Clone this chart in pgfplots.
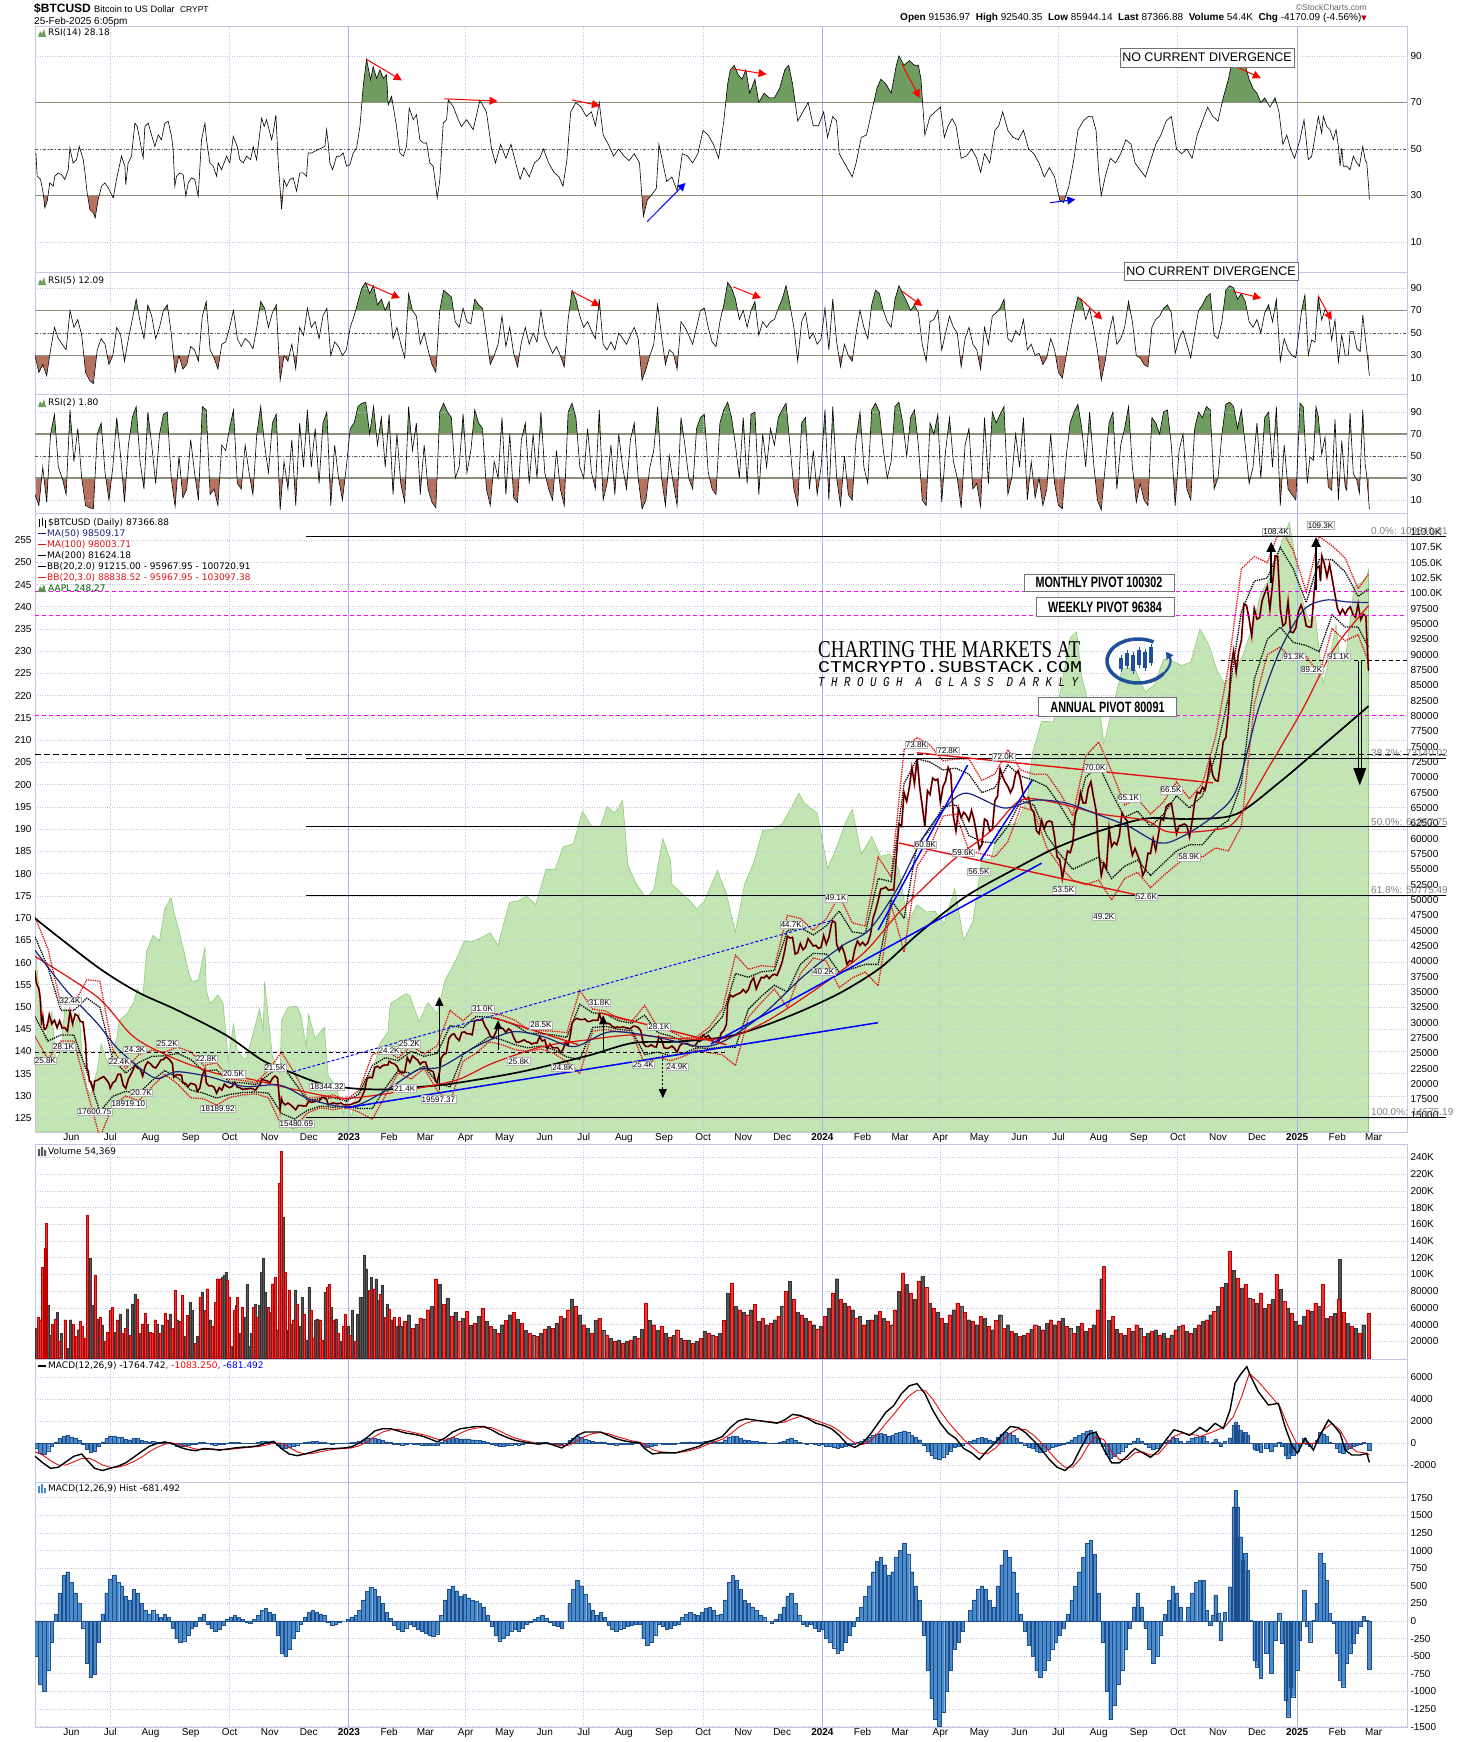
\documentclass[border=0pt]{standalone}
\usepackage{fontspec}
\setmainfont{Liberation Sans}
\newfontfamily\dv{DejaVu Sans}
\newfontfamily\lser{Liberation Serif}
\newfontfamily\lmono{Liberation Mono}
\usepackage{pgfplots}
\usepackage{pgfplotstable}
\pgfplotsset{compat=1.18}
\usetikzlibrary{arrows.meta}
\definecolor{gridc}{HTML}{C4C4E4}
\definecolor{yearc}{HTML}{A8B2F2}
\definecolor{refc}{HTML}{8E8E7C}
\definecolor{obc}{HTML}{6F9C5F}
\definecolor{osc}{HTML}{B4725F}
\definecolor{aaplf}{HTML}{C2E5B3}
\definecolor{aapll}{HTML}{8FCB7A}
\definecolor{navyma}{HTML}{1A237E}
\definecolor{redma}{HTML}{E01010}
\definecolor{magp}{HTML}{FF00FF}
\definecolor{volr}{HTML}{E23A3A}
\definecolor{volk}{HTML}{555555}
\definecolor{histf}{HTML}{4A8CCB}
\definecolor{histd}{HTML}{1E4E8C}
\definecolor{logob}{HTML}{1E4E9C}
\newcommand{\lbl}{\dv\fontsize{9}{10}\selectfont}
\newcommand{\yl}[2]{\draw[yearc, line width=0.9pt] (axis cs:0,#1)--(axis cs:0,#2) (axis cs:365,#1)--(axis cs:365,#2) (axis cs:731,#1)--(axis cs:731,#2);}
\newcommand{\rsiref}{\draw[refc, line width=1.6pt] (axis cs:-242,70)--(axis cs:815.7,70) (axis cs:-242,30)--(axis cs:815.7,30); \draw[black!65, line width=0.6pt, dash dot] (axis cs:-242,50)--(axis cs:815.7,50);}
\newcommand{\vl}[3]{\node[lab] at (axis cs:#1,#2) {#3};}
\newcommand{\fl}[2]{\node[anchor=south west, inner sep=1pt, text=black!50, font=\fontsize{10}{10}\selectfont] at (axis cs:787.2,#1) {#2};}
\tikzset{
 lab/.style={fill=white, draw=gray!60, inner sep=0.8pt, line width=0.4pt, font=\fontsize{8}{8}\selectfont},
 rarr/.style={red, line width=1pt, -{Triangle[length=8pt,width=8pt]}},
 barr/.style={blue, line width=1pt, -{Triangle[length=8pt,width=8pt]}},
}
\pgfplotsset{
 base/.style={scale only axis, width=1372pt, xmin=-242, xmax=815.7,
   axis line style={draw=gridc, line width=0.7pt},
   major tick length=0pt, scaled y ticks=false,
   ymajorgrids=true, major grid style={draw=gridc, dotted, line width=0.7pt},
   tick label style={font=\fontsize{10}{11}\selectfont},
   /pgf/number format/assume math mode=true,
   /pgf/number format/1000 sep={},
   yticklabel pos=right, xtick=\empty},
 ovl/.style={scale only axis, width=1372pt, xmin=-242, xmax=815.7, hide axis},
 vgrid/.style={extra x ticks={-184,-92,90,181,273,456,547,639}, extra x tick labels={,,,,,,,},
   extra x tick style={grid=major}},
 mticks/.style={xtick={-214,-184,-153,-122,-92,-61,-31,0,31,59,90,120,151,181,212,243,273,304,334,365,396,425,456,486,517,547,578,609,639,670,700,731,762,790},
   xticklabels={Jun,Jul,Aug,Sep,Oct,Nov,Dec,\textbf{2023},Feb,Mar,Apr,May,Jun,Jul,Aug,Sep,Oct,Nov,Dec,\textbf{2024},Feb,Mar,Apr,May,Jun,Jul,Aug,Sep,Oct,Nov,Dec,\textbf{2025},Feb,Mar},
   xticklabel style={inner sep=1.5pt}},
}
% ---------------- data ----------------
\pgfplotstableread[row sep=\\]{x y\\
-241.3 48.3\\ -240.3 38.3\\ -237.7 36.9\\ -235.7 31.1\\ -234.4 24.7\\ -232.6 27.6\\ -230.6 35.4\\ -228.0 34.0\\ -226.7 38.3\\ -224.1 39.7\\ -221.6 39.0\\ -219.0 36.9\\ -216.4 41.1\\ -215.1 50.4\\ -212.6 44.0\\ -210.0 45.4\\ -207.9 51.1\\ -204.8 45.4\\ -203.6 40.4\\ -201.8 31.1\\ -199.7 24.0\\ -197.1 22.6\\ -195.6 20.4\\ -193.3 28.3\\ -190.7 34.0\\ -188.1 35.4\\ -185.6 33.3\\ -181.7 29.0\\ -179.2 36.9\\ -175.3 46.9\\ -172.7 42.6\\ -172.0 34.7\\ -170.2 44.0\\ -167.6 46.9\\ -165.0 61.1\\ -163.2 59.7\\ -161.2 54.0\\ -159.9 49.7\\ -158.6 46.1\\ -157.3 59.7\\ -154.7 61.1\\ -152.2 56.1\\ -149.6 51.1\\ -147.0 56.1\\ -144.5 54.0\\ -141.9 61.1\\ -139.3 61.9\\ -136.7 55.4\\ -135.5 49.7\\ -134.2 34.0\\ -132.9 38.3\\ -130.3 39.7\\ -127.8 39.0\\ -125.7 29.7\\ -123.9 35.4\\ -121.3 37.6\\ -118.8 36.9\\ -116.2 29.7\\ -113.6 54.0\\ -111.0 61.1\\ -109.8 54.0\\ -107.2 44.0\\ -104.6 42.6\\ -102.0 38.3\\ -100.8 44.0\\ -98.2 41.1\\ -94.3 46.9\\ -91.8 44.0\\ -89.2 55.4\\ -86.1 51.1\\ -84.1 45.4\\ -81.5 44.0\\ -78.9 46.9\\ -75.8 45.4\\ -73.8 51.1\\ -71.2 45.4\\ -67.3 63.3\\ -65.3 59.7\\ -63.5 62.6\\ -59.6 54.0\\ -58.4 56.9\\ -56.3 64.7\\ -54.5 44.0\\ -51.9 24.0\\ -50.1 36.9\\ -48.1 34.0\\ -45.5 36.9\\ -42.9 37.6\\ -40.4 31.9\\ -37.8 39.7\\ -35.2 39.7\\ -32.7 38.3\\ -31.4 48.3\\ -28.8 48.3\\ -26.2 49.0\\ -23.7 49.7\\ -21.1 50.4\\ -18.5 51.1\\ -17.2 58.3\\ -16.0 52.6\\ -14.7 44.0\\ -12.6 41.1\\ -9.5 46.9\\ -7.0 46.9\\ -4.4 48.3\\ -1.8 42.6\\ 0.8 43.3\\ 3.3 48.3\\ 5.9 50.4\\ 8.5 59.7\\ 11.0 76.9\\ 13.6 88.6\\ 16.7 79.7\\ 18.7 85.4\\ 21.3 80.4\\ 23.9 84.0\\ 26.5 80.4\\ 29.0 81.9\\ 30.3 69.0\\ 32.9 72.6\\ 36.7 59.7\\ 39.3 48.3\\ 41.9 46.9\\ 44.4 51.1\\ 46.5 67.6\\ 49.6 62.6\\ 52.1 64.7\\ 54.7 54.0\\ 57.3 52.6\\ 59.9 52.6\\ 62.4 44.0\\ 65.0 42.6\\ 68.1 29.0\\ 70.1 36.9\\ 72.7 61.1\\ 75.3 62.6\\ 76.6 71.1\\ 80.4 68.3\\ 84.3 62.6\\ 86.8 59.7\\ 90.7 62.6\\ 95.8 58.3\\ 101.0 71.1\\
104 68\\ 106 66\\ 110 50\\ 113 44\\ 117 52\\ 121 46\\ 125 52\\ 129 43\\ 132 37\\ 135 42\\ 139 38\\ 143 44\\ 147 46\\ 150 50\\ 154 44\\ 158 40\\ 162 38\\ 165 34\\ 168 45\\ 171 66\\ 175 70\\ 179 68\\ 183 64\\ 187 66\\ 190 60\\ 193 70\\ 196 56\\ 200 52\\ 204 47\\ 208 50\\ 212 47\\ 216 45\\ 220 48\\ 224 44\\ 227 21\\ 230 28\\ 233 30\\ 237 33\\ 239 52\\ 242 44\\ 245 36\\ 249 38\\ 253 32\\ 257 48\\ 261 47\\ 265 44\\ 269 48\\ 273 58\\ 277 56\\ 281 52\\ 285 46\\ 289 62\\ 292 78\\ 294 84\\ 297 86\\ 300 82\\ 303 80\\ 306 84\\ 309 74\\ 313 80\\ 316 70\\ 320 74\\ 324 72\\ 328 72\\ 332 76\\ 336 84\\ 339 86\\ 342 78\\ 346 62\\ 350 66\\ 354 70\\ 358 60\\ 362 60\\ 366 66\\ 369 55\\ 373 64\\ 376 62\\ 378 48\\ 381 45\\ 384 42\\ 388 38\\ 391 44\\ 395 55\\ 399 56\\ 403 66\\ 407 76\\ 410 80\\ 414 78\\ 418 74\\ 422 86\\ 424 90\\ 428 86\\ 432 88\\ 436 86\\ 439 86\\ 441 80\\ 444 56\\ 448 64\\ 452 66\\ 456 68\\ 459 55\\ 462 60\\ 465 63\\ 468 60\\ 472 46\\ 476 47\\ 480 50\\ 484 46\\ 487 40\\ 490 48\\ 494 44\\ 498 58\\ 501 60\\ 504 66\\ 508 58\\ 512 55\\ 516 54\\ 520 58\\ 524 50\\ 528 48\\ 532 44\\ 536 38\\ 540 42\\ 544 38\\ 548 28\\ 551 27\\ 555 34\\ 559 46\\ 562 58\\ 566 62\\ 570 64\\ 573 64\\ 576 58\\ 578 40\\ 580 30\\ 583 38\\ 587 46\\ 591 44\\ 595 48\\ 599 54\\ 603 52\\ 606 44\\ 610 41\\ 614 38\\ 618 45\\ 622 52\\ 626 56\\ 630 62\\ 634 64\\ 638 50\\ 642 48\\ 646 50\\ 650 46\\ 654 56\\ 658 62\\ 662 68\\ 666 64\\ 670 62\\ 674 72\\ 678 80\\ 681 88\\ 684 86\\ 688 88\\ 691 86\\ 694 80\\ 697 76\\ 700 74\\ 703 70\\ 706 72\\ 710 68\\ 714 72\\ 717 66\\ 720 52\\ 723 56\\ 726 50\\ 729 46\\
733.2 54.0\\ 736.3 62.6\\ 739.6 45.4\\ 742.2 46.9\\ 744.8 55.4\\ 747.3 64.0\\ 749.9 56.9\\ 751.2 64.0\\ 753.8 59.7\\ 756.3 58.3\\ 758.9 54.0\\ 761.0 58.3\\ 762.8 51.1\\ 764.1 42.6\\ 765.4 50.4\\ 766.6 42.6\\ 769.2 42.6\\ 771.8 41.1\\ 774.3 46.9\\ 777.0 44.0\\ 779.0 42.6\\ 781.6 51.1\\ 783.4 45.4\\ 784.7 44.0\\ 785.9 35.4\\ 786.7 28.3\\
}\rsiA
\pgfplotstableread[row sep=\\]{x y\\
-242 30\\ -239 15\\ -236 22\\ -233 12\\ -230 35\\ -227 55\\ -224 45\\ -221 40\\ -218 35\\ -215 70\\ -212 55\\ -209 62\\ -206 48\\ -203 15\\ -200 8\\ -197 5\\ -194 35\\ -191 45\\ -188 40\\ -185 22\\ -182 30\\ -179 55\\ -176 48\\ -173 25\\ -170 45\\ -167 62\\ -164 80\\ -161 60\\ -158 45\\ -155 75\\ -152 65\\ -149 45\\ -146 55\\ -143 70\\ -140 75\\ -137 50\\ -134 15\\ -131 30\\ -128 18\\ -125 22\\ -122 38\\ -119 35\\ -116 25\\ -113 65\\ -110 78\\ -107 35\\ -104 28\\ -101 18\\ -98 40\\ -95 42\\ -92 55\\ -89 70\\ -86 45\\ -83 38\\ -80 45\\ -77 42\\ -74 36\\ -71 55\\ -68 78\\ -65 72\\ -62 55\\ -59 68\\ -56 75\\ -53 8\\ -50 30\\ -47 25\\ -44 40\\ -41 18\\ -38 55\\ -35 48\\ -32 72\\ -29 55\\ -26 60\\ -23 45\\ -20 65\\ -17 72\\ -14 30\\ -11 42\\ -8 38\\ -5 30\\ -2 35\\ 1 55\\ 4 65\\ 7 78\\ 10 90\\ 13 95\\ 16 85\\ 19 92\\ 22 75\\ 25 80\\ 28 70\\ 31 78\\ 34 45\\ 37 55\\ 40 40\\ 43 28\\ 46 85\\ 49 70\\ 52 65\\ 55 40\\ 58 50\\ 61 35\\ 64 22\\ 67 15\\ 70 70\\ 73 88\\ 76 85\\ 79 82\\ 82 60\\ 85 55\\ 88 72\\ 91 60\\ 94 58\\ 97 80\\ 100 75\\ 103 72\\ 106 48\\ 109 22\\ 112 30\\ 115 40\\ 118 65\\ 121 38\\ 124 55\\ 127 32\\ 130 20\\ 133 42\\ 136 55\\ 139 40\\ 142 50\\ 145 42\\ 148 70\\ 151 48\\ 154 40\\ 157 32\\ 160 38\\ 163 30\\ 166 20\\ 169 62\\ 172 88\\ 175 80\\ 178 65\\ 181 55\\ 184 60\\ 187 52\\ 190 45\\ 193 80\\ 196 40\\ 199 35\\ 202 42\\ 205 35\\ 208 50\\ 211 45\\ 214 40\\ 217 48\\ 220 55\\ 223 45\\ 226 8\\ 229 18\\ 232 30\\ 235 40\\ 238 75\\ 241 48\\ 244 22\\ 247 35\\ 250 32\\ 253 18\\ 256 60\\ 259 55\\ 262 48\\ 265 40\\ 268 55\\ 271 70\\ 274 72\\ 277 55\\ 280 42\\ 283 38\\ 286 60\\ 289 75\\ 292 95\\ 295 90\\ 298 80\\ 301 62\\ 304 70\\ 307 55\\ 310 70\\ 313 78\\ 316 48\\ 319 60\\ 322 55\\ 325 60\\ 328 62\\ 331 72\\ 334 80\\ 337 92\\ 340 75\\ 343 55\\ 346 25\\ 349 60\\ 352 68\\ 355 45\\ 358 50\\ 361 40\\ 364 45\\ 367 72\\ 370 35\\ 373 80\\ 376 42\\ 379 20\\ 382 40\\ 385 30\\ 388 25\\ 391 50\\ 394 70\\ 397 55\\ 400 45\\ 403 75\\ 406 88\\ 409 85\\ 412 70\\ 415 60\\ 418 55\\ 421 80\\ 424 92\\ 427 85\\ 430 78\\ 433 70\\ 436 75\\ 439 68\\ 442 40\\ 445 25\\ 448 60\\ 451 62\\ 454 70\\ 457 35\\ 460 50\\ 463 65\\ 466 55\\ 469 50\\ 472 20\\ 475 45\\ 478 55\\ 481 40\\ 484 35\\ 487 18\\ 490 55\\ 493 40\\ 496 65\\ 499 68\\ 502 72\\ 505 80\\ 508 45\\ 511 42\\ 514 52\\ 517 48\\ 520 62\\ 523 35\\ 526 40\\ 529 30\\ 532 32\\ 535 22\\ 538 28\\ 541 45\\ 544 35\\ 547 15\\ 550 10\\ 553 30\\ 556 50\\ 559 68\\ 562 82\\ 565 78\\ 568 62\\ 571 72\\ 574 55\\ 577 35\\ 580 8\\ 583 25\\ 586 50\\ 589 65\\ 592 40\\ 595 45\\ 598 55\\ 601 78\\ 604 60\\ 607 30\\ 610 28\\ 613 22\\ 616 20\\ 619 55\\ 622 62\\ 625 65\\ 628 72\\ 631 75\\ 634 68\\ 637 32\\ 640 45\\ 643 52\\ 646 40\\ 649 28\\ 652 50\\ 655 70\\ 658 75\\ 661 82\\ 664 85\\ 667 48\\ 670 45\\ 673 60\\ 676 88\\ 679 92\\ 682 90\\ 685 80\\ 688 85\\ 691 78\\ 694 60\\ 697 55\\ 700 62\\ 703 50\\ 706 68\\ 709 75\\ 712 60\\ 715 80\\ 718 25\\ 721 45\\ 724 35\\ 727 30\\ 730 28\\
734.5 70.4\\ 737 83.8\\ 739.6 30.4\\ 742.2 43.8\\ 744.8 42\\ 747.3 82.3\\ 749.9 61.6\\ 752.5 71\\ 755 67\\ 757.6 43.8\\ 760.2 61.6\\ 762.8 24.5\\ 765.4 48.2\\ 768 30.4\\ 770.5 30.4\\ 771.8 51.1\\ 774.3 51.1\\ 777 36.3\\ 779.6 33.4\\ 781.6 66\\ 783.4 46.7\\ 784.7 34.8\\ 786.7 12.1\\
}\rsiB
\pgfplotstableread[row sep=\\]{x y\\
-242 15\\ -239 5\\ -236 40\\ -233 8\\ -230 70\\ -227 88\\ -224 40\\ -221 30\\ -218 15\\ -215 92\\ -212 45\\ -209 75\\ -206 30\\ -203 5\\ -200 3\\ -197 2\\ -194 70\\ -191 80\\ -188 35\\ -185 10\\ -182 40\\ -179 85\\ -176 50\\ -173 8\\ -170 60\\ -167 85\\ -164 95\\ -161 45\\ -158 20\\ -155 90\\ -152 60\\ -149 25\\ -146 70\\ -143 88\\ -140 90\\ -137 30\\ -134 4\\ -131 50\\ -128 12\\ -125 20\\ -122 65\\ -119 35\\ -116 10\\ -113 95\\ -110 92\\ -107 15\\ -104 20\\ -101 5\\ -98 60\\ -95 55\\ -92 75\\ -89 92\\ -86 25\\ -83 20\\ -80 60\\ -77 35\\ -74 15\\ -71 70\\ -68 95\\ -65 60\\ -62 35\\ -59 80\\ -56 88\\ -53 1\\ -50 45\\ -47 20\\ -44 65\\ -41 5\\ -38 80\\ -35 40\\ -32 92\\ -29 40\\ -26 75\\ -23 25\\ -20 80\\ -17 90\\ -14 5\\ -11 60\\ -8 30\\ -5 10\\ -2 40\\ 1 75\\ 4 80\\ 7 95\\ 10 98\\ 13 99\\ 16 70\\ 19 95\\ 22 60\\ 25 85\\ 28 40\\ 31 88\\ 34 15\\ 37 70\\ 40 25\\ 43 8\\ 46 95\\ 49 55\\ 52 80\\ 55 15\\ 58 60\\ 61 20\\ 64 8\\ 67 3\\ 70 90\\ 73 98\\ 76 90\\ 79 85\\ 82 30\\ 85 40\\ 88 88\\ 91 35\\ 94 55\\ 97 92\\ 100 80\\ 103 75\\ 106 20\\ 109 5\\ 112 45\\ 115 30\\ 118 85\\ 121 15\\ 124 70\\ 127 12\\ 130 8\\ 133 65\\ 136 80\\ 139 25\\ 142 70\\ 145 30\\ 148 90\\ 151 35\\ 154 20\\ 157 10\\ 160 55\\ 163 20\\ 166 5\\ 169 90\\ 172 98\\ 175 85\\ 178 40\\ 181 30\\ 184 75\\ 187 35\\ 190 20\\ 193 92\\ 196 10\\ 199 25\\ 202 60\\ 205 15\\ 208 70\\ 211 40\\ 214 20\\ 217 65\\ 220 80\\ 223 30\\ 226 2\\ 229 10\\ 232 40\\ 235 55\\ 238 95\\ 241 30\\ 244 5\\ 247 50\\ 250 25\\ 253 5\\ 256 85\\ 259 60\\ 262 30\\ 265 20\\ 268 75\\ 271 85\\ 274 88\\ 277 35\\ 280 20\\ 283 15\\ 286 80\\ 289 92\\ 292 99\\ 295 85\\ 298 60\\ 301 30\\ 304 85\\ 307 25\\ 310 88\\ 313 90\\ 316 15\\ 319 70\\ 322 40\\ 325 75\\ 328 60\\ 331 85\\ 334 92\\ 337 98\\ 340 60\\ 343 20\\ 346 5\\ 349 80\\ 352 85\\ 355 20\\ 358 55\\ 361 15\\ 364 40\\ 367 92\\ 370 10\\ 373 95\\ 376 30\\ 379 5\\ 382 50\\ 385 15\\ 388 10\\ 391 65\\ 394 90\\ 397 40\\ 400 25\\ 403 92\\ 406 98\\ 409 90\\ 412 55\\ 415 30\\ 418 45\\ 421 95\\ 424 99\\ 427 80\\ 430 50\\ 433 85\\ 436 92\\ 439 60\\ 442 10\\ 445 5\\ 448 80\\ 451 70\\ 454 88\\ 457 8\\ 460 55\\ 463 85\\ 466 45\\ 469 30\\ 472 3\\ 475 60\\ 478 75\\ 481 20\\ 484 25\\ 487 4\\ 490 85\\ 493 25\\ 496 90\\ 499 80\\ 502 88\\ 505 95\\ 508 15\\ 511 30\\ 514 70\\ 517 40\\ 520 85\\ 523 10\\ 526 45\\ 529 12\\ 532 30\\ 535 5\\ 538 20\\ 541 70\\ 544 25\\ 547 5\\ 550 2\\ 553 50\\ 556 80\\ 559 90\\ 562 97\\ 565 75\\ 568 40\\ 571 90\\ 574 45\\ 577 10\\ 580 1\\ 583 40\\ 586 80\\ 589 90\\ 592 20\\ 595 60\\ 598 75\\ 601 95\\ 604 40\\ 607 8\\ 610 25\\ 613 10\\ 616 5\\ 619 85\\ 622 80\\ 625 70\\ 628 90\\ 631 92\\ 634 60\\ 637 5\\ 640 55\\ 643 70\\ 646 20\\ 649 10\\ 652 75\\ 655 90\\ 658 85\\ 661 95\\ 664 92\\ 667 20\\ 670 30\\ 673 70\\ 676 97\\ 679 99\\ 682 95\\ 685 75\\ 688 92\\ 691 60\\ 694 25\\ 697 40\\ 700 80\\ 703 30\\ 706 85\\ 709 90\\ 712 40\\ 715 95\\ 718 5\\ 721 60\\ 724 20\\ 727 15\\ 730 10\\
733.2 97.9\\ 735.7 94.8\\ 738.8 25\\ 740.9 49.4\\ 743.5 46\\ 745.5 94.8\\ 747.3 86\\ 749.9 51.7\\ 752.5 67\\ 755 22\\ 757.6 19\\ 760.2 83\\ 762.8 10\\ 765.4 64\\ 768 22\\ 769.2 19\\ 771.8 89\\ 774.3 34\\ 777 28\\ 779 16\\ 781.6 91.8\\ 783.4 43\\ 784.7 31\\ 786.7 1.8\\
}\rsiC
\pgfplotstableread[row sep=\\]{x y\\
-242 166\\ -240 157\\ -235 146\\ -234 142.6\\ -229 149\\ -226 137.6\\ -222 140.4\\ -219 149.6\\ -214 148.7\\ -212 145.4\\ -208 148.7\\ -205 137.1\\ -202 131.9\\ -199 130.1\\ -194 135.9\\ -191 141.7\\ -185 136.7\\ -179 142.9\\ -177 147.0\\ -171 148.5\\ -166 151.0\\ -163 154.1\\ -159 151.6\\ -156 162.5\\ -151 166.1\\ -146 164.9\\ -142 172.1\\ -137 174.6\\ -135 171.5\\ -131 167.2\\ -128 163.6\\ -123 157.2\\ -121 155.8\\ -116 156.0\\ -111 163.4\\ -110 153.8\\ -107 150.7\\ -101 152.7\\ -97 150.8\\ -93 138.2\\ -89 146.1\\ -86 140.1\\ -81 138.3\\ -79 138.4\\ -74 143.9\\ -69 149.5\\ -66 144.8\\ -65 155.7\\ -59 138.9\\ -53 134.9\\ -52 146.9\\ -47 150.0\\ -40 150.2\\ -37 148.1\\ -33 141.2\\ -31 148.3\\ -26 142.9\\ -19 145.5\\ -16 134.5\\ -10 132.2\\ -4 126.0\\ -2 129.9\\ 2 125.1\\ 5 129.6\\ 11 133.4\\ 18 135.3\\ 24 141.9\\ 30 144.3\\ 32 150.8\\ 38 151.9\\ 44 153.0\\ 47 152.6\\ 54 146.7\\ 61 151.0\\ 68 148.5\\ 74 155.9\\ 82 160.3\\ 89 164.9\\ 95 164.7\\ 102 165.6\\ 109 166.7\\ 115 163.8\\ 120 169.6\\ 124 173.6\\ 130 173.8\\ 137 175.0\\ 144 173.0\\ 152 181.0\\ 159 181.0\\ 165 186.0\\ 173 186.7\\ 180 194.0\\ 187 190.7\\ 194 190.7\\ 199 195.1\\ 205 193.6\\ 211 196.5\\ 215 182.0\\ 221 178.0\\ 229 174.5\\ 235 176.4\\ 242 187.9\\ 248 182.9\\ 249 177.6\\ 256 175.7\\ 263 173.9\\ 268 172.0\\ 274 173.8\\ 284 180.7\\ 291 175.5\\ 298 166.9\\ 305 177.6\\ 312 182.4\\ 319 189.7\\ 327 190.0\\ 334 191.2\\ 340 194.3\\ 347 198.1\\ 351 195.9\\ 361 193.6\\ 367 184.3\\ 369 181.2\\ 376 185.9\\ 383 191.6\\ 388 194.5\\ 395 184.4\\ 403 188.3\\ 410 183.9\\ 417 184.4\\ 424 180.8\\ 431 169.0\\ 438 173.0\\ 445 171.4\\ 452 171.5\\ 459 168.8\\ 467 176.6\\ 474 165.0\\ 481 169.3\\ 488 183.4\\ 495 183.1\\ 500 189.7\\ 507 190.9\\ 515 191.3\\ 523 196.9\\ 527 207.2\\ 534 214.3\\ 543 214.1\\ 549 221.6\\ 556 233.0\\ 561 234.4\\ 565 224.3\\ 571 217.5\\ 578 218.4\\ 582 209.3\\ 589 217.5\\ 596 225.9\\ 605 226.5\\ 614 220.8\\ 621 222.5\\ 628 228.2\\ 635 227.8\\ 642 226.8\\ 649 227.6\\ 656 235.0\\ 663 231.4\\ 669 225.9\\ 675 222.7\\ 682 225.1\\ 689 229.0\\ 696 234.9\\ 703 243.0\\ 710 246.5\\ 715 251.0\\ 719 254.5\\ 725 259.0\\ 730 250.4\\ 733 243.4\\ 740 236.9\\ 745 237.9\\ 751 222.6\\ 757 229.9\\ 761 236.0\\ 764 228.0\\ 768 227.6\\ 775 244.6\\ 782 245.6\\ 785 247.1\\ 786 248.3\\
}\aapl
\pgfplotstableread[row sep=\\]{x y\\
-242 38.5\\ -241 36.5\\ -240 36.0\\ -239 35.5\\ -238 34.0\\ -237 30.1\\ -236 31.0\\ -235 29.0\\ -234 28.9\\ -233 29.3\\ -232 30.1\\ -231 31.3\\ -229 29.8\\ -227 30.4\\ -225 29.2\\ -223 30.3\\ -221 29.1\\ -219 29.2\\ -217 28.6\\ -215 31.8\\ -213 29.8\\ -211 31.4\\ -209 31.1\\ -207 30.2\\ -205 30.1\\ -204 28.4\\ -203 26.6\\ -202 22.5\\ -201 22.1\\ -200 20.4\\ -199 20.4\\ -197 19.0\\ -196 20.5\\ -194 20.6\\ -191 21.0\\ -189 21.2\\ -187 20.7\\ -185 20.1\\ -184 19.3\\ -182 20.2\\ -180 20.5\\ -178 21.6\\ -176 21.6\\ -174 19.8\\ -172 19.3\\ -170 20.8\\ -168 21.6\\ -166 22.5\\ -165 23.2\\ -163 22.6\\ -161 22.5\\ -159 21.3\\ -157 22.9\\ -155 23.6\\ -153 23.3\\ -151 22.8\\ -149 22.6\\ -147 23.2\\ -145 23.9\\ -143 24.0\\ -141 24.4\\ -140 24.3\\ -138 23.9\\ -136 23.3\\ -135 21.1\\ -133 21.5\\ -131 21.5\\ -129 21.4\\ -128 20.2\\ -126 20.1\\ -124 19.6\\ -122 20.1\\ -120 20.0\\ -118 19.8\\ -117 18.8\\ -115 19.3\\ -113 21.4\\ -111 22.4\\ -110 20.2\\ -108 19.7\\ -106 19.7\\ -104 19.5\\ -102 18.5\\ -100 19.4\\ -98 19.0\\ -96 20.0\\ -94 19.6\\ -92 19.4\\ -90 19.6\\ -88 20.3\\ -86 19.5\\ -84 19.4\\ -82 19.1\\ -80 19.2\\ -78 19.2\\ -76 19.3\\ -74 19.2\\ -72 19.0\\ -70 19.6\\ -68 20.1\\ -67 20.8\\ -65 20.6\\ -63 20.5\\ -61 20.2\\ -59 20.9\\ -57 21.3\\ -55 21.0\\ -54 18.5\\ -53 15.9\\ -52 17.6\\ -51 17.0\\ -49 16.6\\ -47 16.9\\ -45 16.6\\ -43 16.2\\ -41 15.8\\ -39 16.5\\ -37 16.5\\ -35 16.4\\ -33 16.4\\ -31 17.2\\ -29 17.0\\ -27 17.1\\ -25 17.2\\ -23 17.2\\ -21 17.8\\ -19 17.8\\ -17 17.4\\ -16 16.6\\ -14 16.8\\ -12 16.9\\ -10 16.8\\ -8 16.8\\ -6 16.9\\ -4 16.6\\ -2 16.6\\ 0 16.6\\ 2 16.7\\ 4 16.9\\ 6 17.0\\ 8 17.2\\ 10 17.9\\ 12 18.9\\ 13 19.9\\ 14 20.9\\ 16 21.1\\ 18 21.0\\ 20 22.7\\ 22 22.9\\ 24 22.6\\ 26 23.0\\ 28 23.1\\ 30 23.1\\ 31 23.7\\ 33 23.4\\ 35 23.3\\ 37 22.9\\ 39 22.0\\ 41 21.8\\ 43 21.9\\ 45 24.3\\ 47 23.5\\ 49 24.6\\ 51 24.2\\ 53 23.9\\ 55 23.2\\ 57 23.6\\ 59 23.6\\ 61 22.4\\ 63 22.2\\ 65 22.0\\ 67 20.4\\ 68 20.2\\ 70 22.1\\ 71 24.2\\ 73 24.8\\ 75 25.0\\ 77 27.4\\ 79 28.0\\ 81 28.2\\ 83 27.5\\ 85 27.1\\ 87 28.4\\ 89 28.5\\ 91 28.2\\ 93 28.2\\ 95 28.0\\ 97 30.3\\ 99 30.4\\ 101 30.4\\ 103 30.5\\ 105 29.4\\ 107 28.8\\ 109 27.8\\ 111 27.5\\ 113 28.3\\ 115 29.5\\ 117 29.2\\ 119 29.0\\ 121 28.4\\ 123 29.0\\ 125 28.7\\ 127 27.6\\ 129 26.8\\ 131 26.8\\ 133 27.0\\ 135 27.2\\ 137 26.9\\ 139 26.8\\ 141 26.5\\ 143 26.7\\ 145 26.7\\ 147 27.7\\ 149 27.0\\ 151 27.2\\ 153 25.7\\ 155 26.5\\ 157 25.9\\ 159 25.9\\ 161 25.9\\ 163 25.1\\ 165 25.6\\ 167 26.8\\ 169 26.3\\ 171 28.3\\ 172 29.9\\ 174 30.5\\ 176 30.7\\ 178 30.5\\ 180 30.5\\ 182 30.6\\ 184 30.2\\ 186 30.2\\ 188 30.4\\ 190 30.4\\ 192 30.4\\ 193 31.4\\ 195 30.3\\ 197 30.1\\ 199 29.9\\ 201 29.8\\ 203 29.4\\ 205 29.2\\ 207 29.3\\ 209 29.2\\ 211 29.3\\ 213 29.2\\ 215 29.1\\ 217 29.0\\ 219 29.4\\ 221 29.4\\ 223 29.2\\ 225 28.7\\ 227 26.6\\ 229 26.1\\ 231 26.1\\ 233 26.4\\ 235 26.1\\ 237 26.0\\ 239 27.7\\ 241 27.2\\ 243 25.9\\ 245 25.8\\ 247 25.9\\ 249 26.2\\ 251 25.8\\ 253 25.2\\ 255 26.2\\ 257 26.6\\ 259 26.6\\ 261 26.6\\ 263 26.3\\ 265 26.2\\ 267 26.3\\ 269 26.9\\ 271 27.0\\ 273 28.0\\ 275 27.6\\ 277 27.9\\ 279 27.4\\ 281 26.9\\ 283 26.8\\ 285 26.8\\ 287 28.3\\ 289 28.7\\ 291 29.7\\ 292 33.1\\ 294 34.5\\ 296 34.2\\ 298 34.5\\ 300 34.7\\ 302 34.9\\ 304 35.4\\ 306 34.9\\ 308 35.4\\ 310 36.7\\ 312 37.3\\ 314 35.5\\ 316 36.5\\ 318 37.4\\ 320 37.3\\ 322 37.7\\ 324 37.2\\ 326 37.7\\ 328 37.9\\ 330 37.7\\ 332 38.7\\ 334 39.9\\ 336 41.8\\ 338 44.1\\ 340 43.8\\ 342 43.9\\ 344 41.2\\ 346 41.4\\ 348 42.9\\ 350 41.9\\ 352 42.3\\ 354 43.7\\ 356 43.1\\ 358 42.5\\ 360 42.6\\ 362 42.1\\ 364 42.3\\ 366 44.2\\ 368 42.8\\ 370 43.9\\ 372 46.1\\ 373 46.6\\ 375 46.3\\ 376 42.8\\ 378 41.7\\ 380 42.5\\ 382 41.3\\ 384 39.5\\ 386 40.1\\ 388 39.9\\ 390 42.0\\ 392 43.3\\ 394 42.6\\ 396 43.1\\ 398 42.6\\ 400 43.0\\ 402 44.3\\ 404 47.0\\ 406 48.3\\ 408 49.9\\ 410 51.8\\ 412 51.9\\ 414 52.1\\ 416 51.6\\ 418 51.7\\ 420 51.6\\ 422 57.0\\ 424 62.4\\ 426 62.0\\ 428 67.5\\ 430 66.1\\ 432 68.3\\ 434 71.6\\ 436 69.0\\ 438 73.1\\ 440 68.4\\ 442 65.3\\ 444 62.0\\ 446 67.8\\ 448 67.2\\ 450 69.9\\ 452 69.5\\ 454 69.7\\ 456 65.9\\ 458 68.5\\ 460 69.4\\ 462 71.6\\ 464 70.6\\ 466 63.6\\ 468 61.3\\ 470 64.9\\ 472 63.4\\ 474 64.3\\ 476 63.8\\ 478 62.9\\ 480 64.6\\ 482 63.0\\ 484 60.6\\ 486 58.3\\ 488 59.1\\ 490 63.2\\ 492 62.9\\ 494 61.2\\ 496 61.5\\ 498 66.2\\ 500 66.9\\ 502 71.4\\ 504 70.1\\ 506 69.2\\ 508 68.5\\ 510 67.5\\ 512 68.4\\ 514 70.6\\ 516 71.1\\ 518 69.4\\ 520 66.9\\ 522 66.4\\ 524 66.7\\ 526 64.9\\ 528 64.3\\ 530 61.3\\ 532 60.8\\ 534 63.0\\ 536 61.6\\ 538 62.7\\ 540 62.9\\ 542 62.7\\ 544 60.3\\ 546 57.0\\ 548 56.6\\ 550 53.5\\ 552 55.8\\ 554 58.0\\ 556 57.7\\ 558 59.2\\ 560 64.1\\ 562 65.1\\ 564 67.5\\ 566 65.8\\ 568 65.8\\ 570 68.2\\ 572 69.3\\ 574 66.8\\ 576 64.6\\ 578 58.1\\ 580 54.0\\ 582 56.0\\ 584 55.1\\ 586 61.7\\ 588 58.7\\ 590 59.4\\ 592 59.0\\ 594 60.6\\ 596 64.2\\ 598 63.4\\ 600 62.9\\ 602 59.4\\ 604 57.3\\ 606 58.4\\ 608 57.3\\ 610 56.2\\ 612 54.0\\ 614 54.9\\ 616 57.6\\ 618 57.6\\ 620 60.0\\ 622 58.1\\ 624 60.6\\ 626 63.3\\ 628 63.0\\ 630 65.2\\ 632 65.6\\ 634 65.8\\ 636 63.3\\ 638 60.8\\ 640 62.1\\ 642 62.2\\ 644 62.4\\ 646 62.1\\ 648 60.3\\ 650 62.8\\ 652 66.0\\ 654 67.6\\ 656 67.4\\ 658 68.4\\ 660 67.9\\ 662 69.9\\ 664 72.7\\ 666 70.3\\ 668 69.5\\ 670 69.4\\ 672 72.4\\ 674 75.8\\ 676 76.5\\ 678 80.4\\ 680 87.9\\ 682 90.6\\ 684 87.2\\ 686 90.6\\ 688 92.3\\ 690 98.3\\ 692 98.0\\ 694 95.8\\ 696 93.0\\ 698 97.5\\ 700 95.8\\ 702 96.0\\ 704 98.8\\ 706 100.0\\ 708 101.1\\ 710 97.4\\ 712 101.4\\ 714 106.1\\ 716 106.0\\ 718 97.4\\ 720 94.7\\ 722 95.1\\ 724 98.7\\ 726 93.7\\ 728 93.6\\ 730 94.4\\ 732 97.0\\ 734 98.1\\ 736 96.9\\ 738 94.7\\ 740 94.5\\ 742 94.5\\ 744 99.9\\ 746 104.1\\ 748 104.4\\ 749 102.0\\ 750 106.1\\ 752 104.8\\ 754 102.7\\ 756 104.7\\ 758 102.4\\ 760 100.0\\ 762 97.6\\ 764 96.6\\ 766 97.4\\ 768 96.6\\ 770 97.4\\ 772 97.8\\ 774 96.6\\ 776 96.1\\ 778 98.3\\ 780 95.7\\ 782 96.6\\ 784 96.3\\ 785 91.4\\ 786 87.4\\
}\btc
\pgfplotstableread[row sep=\\]{x y\\
-242 41.8\\ -218 35.3\\ -194 29.9\\ -177 25.5\\ -150 21.0\\ -133 22.0\\ -108 21.2\\ -81 19.6\\ -53 19.8\\ -29 17.4\\ 2 16.3\\ 29 19.0\\ 53 22.3\\ 71 22.8\\ 98 26.1\\ 126 28.5\\ 150 27.7\\ 174 26.1\\ 201 28.5\\ 236 27.7\\ 271 26.1\\ 291 27.2\\ 320 31.5\\ 350 37.5\\ 380 42.5\\ 401 45.1\\ 422 51.6\\ 443 60.3\\ 463 65.8\\ 477 67.4\\ 505 65.0\\ 529 66.3\\ 553 65.8\\ 574 64.2\\ 601 62.0\\ 625 59.3\\ 642 60.3\\ 666 63.6\\ 684 67.9\\ 701 81.0\\ 718 90.8\\ 736 97.3\\ 753 98.9\\ 770 98.6\\ 786 98.5\\
}\maA
\pgfplotstableread[row sep=\\]{x y\\
-242 40.8\\ -194 34.2\\ -166 27.7\\ -135 24.2\\ -102 21.7\\ -74 20.7\\ -40 19.0\\ -6 17.7\\ 22 18.2\\ 53 19.3\\ 84 20.7\\ 111 23.4\\ 149 26.1\\ 184 27.2\\ 219 28.0\\ 253 27.4\\ 291 27.5\\ 320 30.0\\ 350 34.0\\ 380 38.5\\ 400 42.0\\ 426 48.4\\ 463 56.0\\ 494 61.1\\ 518 66.3\\ 546 65.8\\ 580 64.0\\ 614 63.0\\ 632 61.1\\ 666 61.4\\ 684 63.0\\ 711 72.3\\ 735 81.0\\ 759 90.8\\ 786 98.0\\
}\maB
\pgfplotstableread[row sep=\\]{x y\\
-242 47.0\\ -194 39.1\\ -163 35.0\\ -133 32.1\\ -95 28.0\\ -67 23.9\\ -46 22.0\\ -22 20.1\\ 2 19.3\\ 29 19.1\\ 53 19.5\\ 81 20.1\\ 133 22.0\\ 184 24.6\\ 219 26.7\\ 253 26.9\\ 291 27.7\\ 320 29.5\\ 350 32.0\\ 380 35.0\\ 410 39.0\\ 439 44.5\\ 475 50.5\\ 512 54.9\\ 545 58.5\\ 581 61.4\\ 615 63.3\\ 649 63.2\\ 684 64.0\\ 718 69.3\\ 753 75.6\\ 786 81.6\\
}\maC
\pgfplotstableread[row sep=\\]{d u3 u2 l2 l3\\
-242 47.25 44.0 31.0 27.75\\ -232 42.0 39.0 27.0 24.0\\ -222 33.0 32.0 28.0 27.0\\ -212 33.0 32.0 28.0 27.0\\ -202 37.0 34.0 22.0 19.0\\ -192 36.75 32.5 15.5 11.25\\ -182 25.5 24.0 18.0 16.5\\ -172 22.55 21.8 18.8 18.05\\ -162 24.75 23.5 18.5 17.25\\ -152 25.5 24.5 20.5 19.5\\ -142 25.2 24.6 22.2 21.6\\ -132 26.0 25.0 21.0 20.0\\ -122 25.25 24.0 19.0 17.75\\ -112 23.0 22.1 18.5 17.6\\ -102 23.45 22.3 17.7 16.55\\ -92 20.8 20.3 18.3 17.8\\ -82 20.6 20.2 18.6 18.2\\ -72 20.2 19.9 18.7 18.4\\ -62 22.25 21.5 18.5 17.75\\ -52 25.2 23.2 15.2 13.2\\ -42 21.8 20.3 14.3 12.8\\ -32 17.7 17.3 15.7 15.3\\ -22 17.9 17.6 16.4 16.1\\ -12 18.2 17.8 16.2 15.8\\ -2 17.4 17.2 16.4 16.2\\ 8 19.0 18.4 16.0 15.4\\ 18 24.75 23.0 16.0 14.25\\ 28 25.55 24.3 19.3 18.05\\ 38 24.2 23.8 22.2 21.8\\ 48 26.2 25.3 21.7 20.8\\ 58 24.9 24.5 22.9 22.5\\ 68 26.2 25.0 20.2 19.0\\ 78 32.0 29.5 19.5 17.0\\ 88 30.3 29.2 24.8 23.7\\ 98 32.2 31.0 26.2 25.0\\ 108 31.7 30.9 27.7 26.9\\ 118 31.2 30.4 27.2 26.4\\ 128 30.4 29.6 26.4 25.6\\ 138 28.9 28.3 25.9 25.3\\ 148 28.7 28.2 26.2 25.7\\ 158 28.6 28.0 25.6 25.0\\ 168 28.4 27.6 24.4 23.6\\ 178 35.25 33.0 24.0 21.75\\ 188 32.2 31.6 29.2 28.6\\ 198 31.9 31.4 29.4 28.9\\ 208 30.65 30.3 28.9 28.55\\ 218 30.2 29.9 28.7 28.4\\ 228 32.8 31.2 24.8 23.2\\ 238 29.2 28.4 25.2 24.4\\ 248 28.6 27.8 24.6 23.8\\ 258 27.5 27.0 25.0 24.5\\ 268 27.65 27.3 25.9 25.55\\ 278 29.3 28.6 25.8 25.1\\ 288 32.25 31.0 26.0 24.75\\ 298 41.0 38.0 26.0 23.0\\ 308 38.7 37.4 32.2 30.9\\ 318 39.3 38.3 34.3 33.3\\ 328 39.1 38.5 36.1 35.5\\ 338 47.5 45.0 35.0 32.5\\ 348 47.0 45.5 39.5 38.0\\ 358 45.05 44.3 41.3 40.55\\ 368 46.95 45.8 41.2 40.05\\ 378 50.7 48.2 38.2 35.7\\ 388 46.3 44.8 38.8 37.3\\ 398 45.75 44.5 39.5 38.25\\ 408 57.0 53.5 39.5 36.0\\ 418 53.75 53.0 50.0 49.25\\ 428 74.5 69.0 47.0 41.5\\ 438 76.5 73.0 59.0 55.5\\ 448 75.25 72.5 61.5 58.75\\ 458 72.7 71.2 65.2 63.7\\ 468 73.0 71.5 65.5 64.0\\ 478 73.0 70.5 60.5 58.0\\ 488 69.5 67.5 59.5 57.5\\ 498 70.55 68.3 59.3 57.05\\ 508 74.5 72.0 62.0 59.5\\ 518 71.2 70.2 66.2 65.2\\ 528 70.5 69.5 65.5 64.5\\ 538 70.5 68.5 60.5 58.5\\ 548 67.5 65.5 57.5 55.5\\ 558 63.75 62.0 55.0 53.25\\ 568 73.5 70.0 56.0 52.5\\ 578 75.75 72.0 57.0 53.25\\ 588 71.0 67.5 53.5 50.0\\ 598 65.5 63.5 55.5 53.5\\ 608 66.5 64.5 56.5 54.5\\ 618 64.0 62.0 54.0 52.0\\ 628 66.0 64.0 56.0 54.0\\ 638 69.25 67.0 58.0 55.75\\ 648 66.5 65.0 59.0 57.5\\ 658 69.0 67.0 59.0 57.0\\ 668 76.5 73.5 61.5 58.5\\ 678 88.0 83.0 63.0 58.0\\ 688 104.0 97.0 69.0 62.0\\ 698 106.0 102.0 86.0 82.0\\ 708 105.0 102.5 92.5 90.0\\ 718 110.75 107.5 94.5 91.25\\ 728 107.0 104.0 92.0 89.0\\ 738 100.25 98.5 91.5 89.75\\ 748 109.25 105.5 90.5 86.75\\ 758 107.75 105.5 96.5 94.25\\ 768 105.75 103.5 94.5 92.25\\ 778 100.75 99.5 94.5 93.25\\ 786 103.1 100.72 91.22 88.84\\
}\bb
\pgfplotstableread[row sep=\\]{x y\\
-241.3 36\\ -231.8 63\\ -230.0 27\\ -224.9 55\\ -221.6 30\\ -216.4 12\\ -214.6 46\\ -208.7 34\\ -199.7 119\\ -197.7 63\\ -194.1 47\\ -190.2 39\\ -180.4 31\\ -176.6 53\\ -170.9 59\\ -167.1 65\\ -165.0 77\\ -161.2 30\\ -155.5 41\\ -147.8 41\\ -143.7 39\\ -138.0 53\\ -132.4 46\\ -126.5 26\\ -122.6 67\\ -120.8 57\\ -117.0 26\\ -113.1 79\\ -107.2 46\\ -97.7 97\\ -96.4 99\\ -94.9 103\\ -90.5 14\\ -87.1 63\\ -84.1 30\\ -80.2 49\\ -78.7 88\\ -76.9 14\\ -75.1 30\\ -72.0 65\\ -69.2 63\\ -67.3 103\\ -66.1 119\\ -64.3 79\\ -60.4 55\\ -55.3 34\\ -50.6 169\\ -48.1 34\\ -44.7 41\\ -41.1 81\\ -37.8 38\\ -36.0 73\\ -32.7 22\\ -30.9 85\\ -25.7 46\\ -24.2 47\\ -18.5 79\\ -13.4 61\\ -10.0 47\\ -6.4 20\\ -0.5 38\\ 2.8 57\\ 6.4 53\\ 8.5 73\\ 10.5 73\\ 11.8 123\\ 13.6 107\\ 17.5 97\\ 20.8 95\\ 22.6 69\\ 25.9 87\\ 29.5 65\\ 32.9 46\\ 36.7 38\\
}\vLK
\pgfplotstableread[row sep=\\]{x y\\
-239.5 49\\ -237.7 46\\ -236.2 109\\ -234.4 131\\ -233.1 161\\ -228.5 41\\ -226.7 47\\ -223.4 20\\ -219.0 46\\ -212.6 41\\ -210.5 26\\ -206.9 44\\ -205.4 38\\ -203.6 24\\ -201.8 171\\ -195.8 99\\ -192.0 49\\ -188.1 20\\ -186.3 31\\ -184.3 57\\ -182.5 61\\ -178.6 46\\ -174.8 30\\ -172.7 36\\ -168.9 27\\ -163.2 71\\ -159.1 41\\ -157.3 54\\ -153.5 31\\ -151.4 30\\ -149.6 46\\ -145.7 30\\ -141.9 54\\ -140.1 46\\ -136.2 36\\ -134.2 81\\ -130.3 44\\ -128.3 75\\ -124.7 51\\ -118.8 18\\ -114.9 73\\ -111.0 57\\ -109.2 83\\ -105.4 38\\ -103.3 67\\ -101.5 95\\ -99.5 95\\ -93.6 93\\ -92.3 73\\ -88.7 57\\ -85.9 73\\ -82.0 61\\ -73.8 61\\ -70.7 49\\ -62.2 61\\ -58.9 89\\ -57.1 97\\ -53.7 209\\ -52.2 247\\ -49.4 103\\ -46.3 81\\ -42.9 46\\ -39.6 65\\ -34.5 53\\ -29.3 57\\ -27.5 24\\ -22.4 46\\ -20.6 22\\ -16.7 85\\ -15.2 88\\ -12.1 46\\ -8.2 30\\ -4.4 38\\ -2.6 53\\ 1.3 27\\ 4.6 20\\ 15.7 81\\ 19.3 83\\ 24.4 77\\ 27.7 49\\ 31.1 59\\ 34.7 49\\ 38.5 49\\
}\vLR
\pgfplotstableread[row sep=\\]{x y\\
40 38\\ 46 52\\ 52 41\\ 58 47\\ 64 62\\ 70 88\\ 76 72\\ 82 55\\ 88 48\\ 94 39\\ 100 50\\ 106 44\\ 112 35\\ 118 40\\ 124 52\\ 130 47\\ 136 33\\ 142 28\\ 148 30\\ 154 38\\ 160 42\\ 166 48\\ 172 71\\ 178 52\\ 184 36\\ 190 45\\ 196 33\\ 202 24\\ 208 22\\ 214 20\\ 220 26\\ 226 35\\ 232 45\\ 238 33\\ 244 30\\ 250 27\\ 256 24\\ 262 22\\ 268 20\\ 274 32\\ 280 28\\ 286 30\\ 292 78\\ 298 62\\ 304 55\\ 310 58\\ 316 44\\ 322 40\\ 328 46\\ 334 62\\ 340 92\\ 346 55\\ 352 48\\ 358 40\\ 364 38\\ 370 60\\ 376 95\\ 382 66\\ 388 58\\ 394 50\\ 400 45\\ 406 52\\ 412 48\\ 418 40\\ 424 80\\ 430 88\\ 436 70\\ 442 98\\ 448 66\\ 454 55\\ 460 42\\ 466 58\\ 472 62\\ 478 46\\ 484 40\\ 490 48\\ 496 34\\ 502 52\\ 508 40\\ 514 30\\ 520 28\\ 526 35\\ 532 38\\ 538 42\\ 544 40\\ 550 48\\ 556 36\\ 562 38\\ 568 32\\ 574 40\\ 580 95\\ 586 45\\ 592 35\\ 598 28\\ 604 32\\ 610 36\\ 616 30\\ 622 34\\ 628 30\\ 634 28\\ 640 38\\ 646 32\\ 652 36\\ 658 44\\ 664 52\\ 670 62\\ 676 90\\ 682 105\\ 688 84\\ 694 72\\ 700 66\\ 706 60\\ 712 70\\ 718 82\\ 724 60\\ 730 44\\ 736 50\\ 742 56\\ 748 62\\ 754 48\\ 760 54\\ 764 118\\ 770 42\\ 776 36\\ 782 40\\
}\vRK
\pgfplotstableread[row sep=\\]{x y\\
43 44\\ 49 36\\ 55 48\\ 61 58\\ 67 95\\ 73 64\\ 79 50\\ 85 44\\ 91 56\\ 97 42\\ 103 60\\ 109 38\\ 115 30\\ 121 45\\ 127 55\\ 133 42\\ 139 30\\ 145 26\\ 151 35\\ 157 36\\ 163 50\\ 169 58\\ 175 62\\ 181 40\\ 187 30\\ 193 48\\ 199 28\\ 205 20\\ 211 18\\ 217 22\\ 223 24\\ 229 66\\ 235 40\\ 241 38\\ 247 25\\ 253 34\\ 259 22\\ 265 18\\ 271 24\\ 277 30\\ 283 26\\ 289 45\\ 295 90\\ 301 58\\ 307 52\\ 313 64\\ 319 48\\ 325 42\\ 331 50\\ 337 80\\ 343 70\\ 349 52\\ 355 44\\ 361 35\\ 367 50\\ 373 78\\ 379 70\\ 385 62\\ 391 48\\ 397 40\\ 403 46\\ 409 56\\ 415 44\\ 421 58\\ 427 102\\ 433 78\\ 439 92\\ 445 85\\ 451 60\\ 457 48\\ 463 52\\ 469 66\\ 475 55\\ 481 44\\ 487 50\\ 493 38\\ 499 45\\ 505 36\\ 511 32\\ 517 26\\ 523 30\\ 529 40\\ 535 34\\ 541 46\\ 547 44\\ 553 38\\ 559 30\\ 565 42\\ 571 36\\ 577 58\\ 582 110\\ 589 50\\ 595 30\\ 601 36\\ 607 40\\ 613 26\\ 619 32\\ 625 28\\ 631 24\\ 637 34\\ 643 40\\ 649 30\\ 655 40\\ 661 46\\ 667 56\\ 673 85\\ 679 128\\ 685 96\\ 691 88\\ 697 70\\ 703 78\\ 709 64\\ 715 100\\ 721 68\\ 727 54\\ 733 40\\ 739 58\\ 745 66\\ 751 88\\ 757 50\\ 763 70\\ 767 55\\ 773 38\\ 779 30\\ 786 54\\
}\vRR
\pgfplotstableread[row sep=\\]{x y\\
-241 -500\\ -238 -900\\ -235 -1000\\ -232 -700\\ -229 -300\\ -226 100\\ -223 400\\ -220 650\\ -217 700\\ -214 550\\ -211 400\\ -208 250\\ -205 -100\\ -202 -600\\ -199 -800\\ -196 -750\\ -193 -300\\ -190 100\\ -187 400\\ -184 600\\ -181 650\\ -178 550\\ -175 500\\ -172 350\\ -169 300\\ -166 450\\ -163 400\\ -160 250\\ -157 150\\ -154 100\\ -151 150\\ -148 100\\ -145 50\\ -142 100\\ -139 50\\ -136 -100\\ -133 -250\\ -130 -300\\ -127 -280\\ -124 -200\\ -121 -100\\ -118 -80\\ -115 50\\ -112 100\\ -109 -50\\ -106 -100\\ -103 -150\\ -100 -120\\ -97 -60\\ -94 20\\ -91 60\\ -88 80\\ -85 50\\ -82 20\\ -79 -20\\ -76 -30\\ -73 20\\ -70 80\\ -67 150\\ -64 180\\ -61 120\\ -58 100\\ -55 -200\\ -52 -450\\ -49 -500\\ -46 -400\\ -43 -250\\ -40 -150\\ -37 -50\\ -34 50\\ -31 120\\ -28 150\\ -25 130\\ -22 100\\ -19 80\\ -16 -20\\ -13 -60\\ -10 -40\\ -7 -20\\ -4 0\\ -1 30\\ 2 60\\ 5 80\\ 8 150\\ 11 300\\ 14 420\\ 17 480\\ 20 450\\ 23 350\\ 26 250\\ 29 120\\ 32 40\\ 35 -60\\ 38 -120\\ 41 -150\\ 44 -100\\ 47 -50\\ 50 -80\\ 53 -120\\ 56 -150\\ 59 -170\\ 62 -200\\ 65 -220\\ 68 -180\\ 71 80\\ 74 300\\ 77 450\\ 80 500\\ 83 430\\ 86 350\\ 89 380\\ 92 330\\ 95 300\\ 98 280\\ 101 250\\ 104 200\\ 107 80\\ 110 -80\\ 113 -200\\ 116 -280\\ 119 -250\\ 122 -200\\ 125 -150\\ 128 -120\\ 131 -150\\ 134 -100\\ 137 -50\\ 140 -20\\ 143 30\\ 146 60\\ 149 80\\ 152 40\\ 155 -20\\ 158 -60\\ 161 -80\\ 164 -100\\ 167 0\\ 170 250\\ 173 450\\ 176 580\\ 179 500\\ 182 380\\ 185 250\\ 188 150\\ 191 80\\ 194 120\\ 197 50\\ 200 -60\\ 203 -120\\ 206 -150\\ 209 -120\\ 212 -100\\ 215 -80\\ 218 -60\\ 221 -40\\ 224 -50\\ 227 -250\\ 230 -350\\ 233 -300\\ 236 -200\\ 239 -50\\ 242 -80\\ 245 -120\\ 248 -100\\ 251 -60\\ 254 -50\\ 257 50\\ 260 100\\ 263 120\\ 266 100\\ 269 80\\ 272 120\\ 275 180\\ 278 200\\ 281 150\\ 284 80\\ 287 100\\ 290 300\\ 293 550\\ 296 650\\ 299 580\\ 302 450\\ 305 300\\ 308 250\\ 311 200\\ 314 150\\ 317 80\\ 320 50\\ 323 0\\ 326 -30\\ 329 20\\ 332 100\\ 335 200\\ 338 350\\ 341 400\\ 344 250\\ 347 80\\ 350 -50\\ 353 -80\\ 356 -50\\ 359 -100\\ 362 -150\\ 365 -120\\ 368 -250\\ 371 -300\\ 374 -380\\ 377 -450\\ 380 -420\\ 383 -300\\ 386 -200\\ 389 -80\\ 392 50\\ 395 200\\ 398 350\\ 401 500\\ 404 700\\ 407 850\\ 410 900\\ 413 800\\ 416 650\\ 419 700\\ 422 900\\ 425 1000\\ 428 1100\\ 431 950\\ 434 700\\ 437 500\\ 440 300\\ 443 -200\\ 446 -700\\ 449 -1100\\ 452 -1400\\ 455 -1500\\ 458 -1300\\ 461 -1000\\ 464 -700\\ 467 -400\\ 470 -300\\ 473 -150\\ 476 0\\ 479 150\\ 482 300\\ 485 450\\ 488 500\\ 491 450\\ 494 300\\ 497 200\\ 500 500\\ 503 800\\ 506 1000\\ 509 900\\ 512 700\\ 515 400\\ 518 100\\ 521 -150\\ 524 -350\\ 527 -500\\ 530 -700\\ 533 -800\\ 536 -700\\ 539 -550\\ 542 -400\\ 545 -300\\ 548 -200\\ 551 -100\\ 554 100\\ 557 300\\ 560 500\\ 563 700\\ 566 900\\ 569 1100\\ 572 1150\\ 575 950\\ 578 400\\ 581 -300\\ 584 -1000\\ 587 -1400\\ 590 -1200\\ 593 -900\\ 596 -700\\ 599 -400\\ 602 -100\\ 605 200\\ 608 400\\ 611 200\\ 614 -100\\ 617 -400\\ 620 -600\\ 623 -500\\ 626 -200\\ 629 100\\ 632 300\\ 635 500\\ 638 400\\ 641 200\\ 644 0\\ 647 200\\ 650 400\\ 653 550\\ 656 582\\ 659 582\\ 661 156\\ 664 -57\\ 666 85\\ 668 369\\ 670 114\\ 672 -270\\ 675 128\\ 679 487\\ 682 1624\\ 683.5 1860\\ 685 1624\\ 687 1197\\ 689 867\\ 691 961\\ 693 724\\ 695 14\\ 698 -554\\ 700 -649\\ 703 -814\\ 707 -459\\ 711 -743\\ 714 -270\\ 717 114\\ 719 -317\\ 722 -1122\\ 724 -1359\\ 726 -933\\ 728 -1075\\ 731 -696\\ 733 -270\\ 736.5 440\\ 738.4 -80\\ 740.9 -294\\ 743.5 14\\ 746 250\\ 748.7 961\\ 751.2 819\\ 753.8 582\\ 756.3 109\\ 759 -33\\ 761.5 -459\\ 764 -838\\ 766.6 -933\\ 769.2 -601\\ 771.8 -459\\ 774.3 -317\\ 777 -175\\ 779.6 -80\\ 782.2 62\\ 784.7 14\\ 786.5 -681\\
}\hist
\pgfplotstableread[row sep=\\]{x y\\
-242 -1200\\ -236 -1800\\ -230 -2300\\ -224 -2200\\ -218 -1700\\ -212 -1200\\ -206 -1000\\ -200 -1800\\ -196 -2300\\ -190 -2500\\ -184 -2300\\ -178 -2100\\ -172 -1800\\ -166 -1300\\ -160 -800\\ -154 -300\\ -148 -50\\ -142 100\\ -136 -50\\ -130 -400\\ -124 -600\\ -118 -700\\ -112 -500\\ -106 -550\\ -100 -650\\ -94 -550\\ -88 -450\\ -82 -380\\ -76 -350\\ -70 -250\\ -64 0\\ -58 150\\ -52 -500\\ -46 -1000\\ -40 -1150\\ -34 -1000\\ -28 -800\\ -22 -600\\ -16 -500\\ -10 -500\\ -4 -450\\ 2 -350\\ 8 0\\ 14 500\\ 20 1100\\ 26 1300\\ 32 1300\\ 38 1100\\ 44 900\\ 50 800\\ 56 650\\ 62 400\\ 68 100\\ 74 450\\ 80 1000\\ 86 1300\\ 92 1400\\ 98 1500\\ 104 1500\\ 110 1200\\ 116 800\\ 122 500\\ 128 250\\ 134 100\\ 140 0\\ 146 -100\\ 152 0\\ 158 -200\\ 164 -450\\ 170 0\\ 176 700\\ 182 1000\\ 188 1000\\ 194 1000\\ 200 700\\ 206 400\\ 212 200\\ 218 80\\ 224 20\\ 228 -500\\ 234 -1000\\ 240 -900\\ 246 -900\\ 252 -900\\ 258 -700\\ 264 -500\\ 270 -300\\ 276 100\\ 282 300\\ 288 600\\ 294 1400\\ 300 2000\\ 306 2200\\ 312 2100\\ 318 2000\\ 324 1900\\ 330 1800\\ 336 2100\\ 342 2600\\ 348 2500\\ 354 2200\\ 360 1800\\ 366 1600\\ 372 1300\\ 378 700\\ 384 -100\\ 390 -400\\ 396 0\\ 402 800\\ 408 1800\\ 414 2800\\ 420 3400\\ 426 4500\\ 432 5200\\ 438 5400\\ 444 4500\\ 450 3000\\ 456 1800\\ 462 900\\ 468 400\\ 474 -500\\ 480 -900\\ 486 -1500\\ 492 -700\\ 498 0\\ 504 800\\ 510 1500\\ 516 1400\\ 522 900\\ 528 200\\ 534 -600\\ 540 -1500\\ 546 -2200\\ 552 -2500\\ 558 -1900\\ 564 -500\\ 570 800\\ 576 1000\\ 582 -600\\ 588 -1800\\ 594 -1800\\ 600 -1200\\ 606 -500\\ 612 -900\\ 618 -1300\\ 624 -700\\ 630 300\\ 636 1200\\ 642 1000\\ 648 700\\ 654 1200\\ 656.1 1425\\ 661.3 1030\\ 667.7 1790\\ 674.1 1333\\ 679.3 3000\\ 683.1 5424\\ 687 6180\\ 692.2 6940\\ 694.7 6180\\ 701.1 4667\\ 708.8 3455\\ 716.5 3606\\ 721.7 1485\\ 726.8 -180\\ 731.2 -940\\ 737.1 424\\ 743.5 -636\\ 748.7 727\\ 755.1 2090\\ 759 1636\\ 764.1 880\\ 768 -636\\ 773.1 -1090\\ 779.6 -1090\\ 784.7 -940\\ 786.7 -1765\\
}\macd
\pgfplotstableread[row sep=\\]{x y\\
-242 -800\\ -236 -1100\\ -230 -1600\\ -224 -2000\\ -218 -2000\\ -212 -1700\\ -206 -1400\\ -200 -1400\\ -196 -1600\\ -190 -2000\\ -184 -2200\\ -178 -2200\\ -172 -2000\\ -166 -1700\\ -160 -1300\\ -154 -800\\ -148 -400\\ -142 -100\\ -136 0\\ -130 -150\\ -124 -350\\ -118 -550\\ -112 -600\\ -106 -550\\ -100 -580\\ -94 -600\\ -88 -530\\ -82 -450\\ -76 -380\\ -70 -320\\ -64 -200\\ -58 0\\ -52 0\\ -46 -400\\ -40 -800\\ -34 -1000\\ -28 -950\\ -22 -800\\ -16 -650\\ -10 -550\\ -4 -500\\ 2 -450\\ 8 -250\\ 14 100\\ 20 600\\ 26 1000\\ 32 1200\\ 38 1250\\ 44 1100\\ 50 950\\ 56 800\\ 62 600\\ 68 350\\ 74 250\\ 80 500\\ 86 900\\ 92 1200\\ 98 1350\\ 104 1450\\ 110 1400\\ 116 1100\\ 122 750\\ 128 450\\ 134 250\\ 140 100\\ 146 -50\\ 152 -50\\ 158 -100\\ 164 -250\\ 170 -200\\ 176 200\\ 182 600\\ 188 850\\ 194 950\\ 200 850\\ 206 600\\ 212 400\\ 218 200\\ 224 80\\ 228 -100\\ 234 -600\\ 240 -800\\ 246 -850\\ 252 -880\\ 258 -800\\ 264 -650\\ 270 -450\\ 276 -150\\ 282 100\\ 288 350\\ 294 800\\ 300 1400\\ 306 1800\\ 312 2000\\ 318 2000\\ 324 1950\\ 330 1850\\ 336 1900\\ 342 2200\\ 348 2400\\ 354 2300\\ 360 2050\\ 366 1800\\ 372 1550\\ 378 1100\\ 384 500\\ 390 0\\ 396 -150\\ 402 200\\ 408 900\\ 414 1800\\ 420 2600\\ 426 3500\\ 432 4300\\ 438 4800\\ 444 4800\\ 450 4000\\ 456 2900\\ 462 1900\\ 468 1100\\ 474 300\\ 480 -300\\ 486 -900\\ 492 -1000\\ 498 -500\\ 504 200\\ 510 900\\ 516 1300\\ 522 1200\\ 528 700\\ 534 0\\ 540 -800\\ 546 -1600\\ 552 -2200\\ 558 -2200\\ 564 -1400\\ 570 -200\\ 576 600\\ 582 300\\ 588 -800\\ 594 -1500\\ 600 -1500\\ 606 -900\\ 612 -800\\ 618 -1100\\ 624 -1000\\ 630 -200\\ 636 600\\ 642 900\\ 648 800\\ 654 700\\ 656 573\\ 666.4 1030\\ 675.4 1485\\ 681.8 2390\\ 688.2 4210\\ 694.2 6330\\ 701.1 5576\\ 710.1 4360\\ 717.8 3300\\ 724.2 1485\\ 730.6 -30\\ 738.4 -30\\ 744.8 -30\\ 751.2 1180\\ 757.7 1790\\ 764.1 1180\\ 770.5 -180\\ 776.9 -790\\ 784.7 -940\\ 786.7 -1083\\
}\sig
\begin{document}
\begin{tikzpicture}
\useasboundingbox (0pt,0pt) rectangle (1456pt,-1742pt);
% ---------------- RSI(14) ----------------
\begin{axis}[ovl, at={(35pt,-26pt)}, anchor=north west, height=76.5pt, ymin=70, ymax=102.9]
\addplot[fill=obc, draw=none] table {\rsiA} \closedcycle;
\end{axis}
\begin{axis}[ovl, at={(35pt,-272pt)}, anchor=south west, height=76.5pt, ymin=-2.9, ymax=30]
\fill[osc] (axis cs:-241.3,0) rectangle (axis cs:786.7,30);
\addplot[fill=white, draw=none] table {\rsiA} \closedcycle;
\end{axis}
\begin{axis}[base, vgrid, at={(35pt,-26pt)}, anchor=north west, height=246pt, ymin=-2.9, ymax=102.9, ytick={10,30,50,70,90}]
\yl{-2.9}{102.9}
\rsiref
\addplot[black, line width=0.6pt] table {\rsiA};
\draw[rarr] (axis cs:13.5,88.6) -- (axis cs:40.8,79.5);
\draw[rarr] (axis cs:73.6,71.6) -- (axis cs:114.6,70.6);
\draw[rarr] (axis cs:172,71.1) -- (axis cs:193.5,68.6);
\draw[rarr] (axis cs:296,84.5) -- (axis cs:322,82.1);
\draw[rarr] (axis cs:426.4,86.4) -- (axis cs:440,72);
\draw[rarr] (axis cs:681.6,86) -- (axis cs:703,80.5);
\draw[barr] (axis cs:230,18.8) -- (axis cs:259.5,35.4);
\draw[barr] (axis cs:540.5,26.9) -- (axis cs:560,28.3);
\end{axis}
% ---------------- RSI(5) ----------------
\begin{axis}[ovl, at={(35pt,-272pt)}, anchor=north west, height=38.49pt, ymin=70, ymax=104.2]
\addplot[fill=obc, draw=none] table {\rsiB} \closedcycle;
\end{axis}
\begin{axis}[ovl, at={(35pt,-394pt)}, anchor=south west, height=38.49pt, ymin=-4.2, ymax=30]
\fill[osc] (axis cs:-242,0) rectangle (axis cs:786.7,30);
\addplot[fill=white, draw=none] table {\rsiB} \closedcycle;
\end{axis}
\begin{axis}[base, vgrid, at={(35pt,-272pt)}, anchor=north west, height=122pt, ymin=-4.2, ymax=104.2, ytick={10,30,50,70,90}]
\yl{-4.2}{104.2}
\rsiref
\addplot[black, line width=0.6pt] table {\rsiB};
\draw[rarr] (axis cs:13.6,94) -- (axis cs:39.3,81);
\draw[rarr] (axis cs:172,87) -- (axis cs:193.5,74);
\draw[rarr] (axis cs:296.3,91) -- (axis cs:317.7,81);
\draw[rarr] (axis cs:426.5,87) -- (axis cs:442,74);
\draw[rarr] (axis cs:563.6,81) -- (axis cs:580.7,62);
\draw[rarr] (axis cs:681.8,87) -- (axis cs:703.3,81);
\draw[rarr] (axis cs:747.3,82.9) -- (axis cs:757.6,61.6);
\end{axis}
% ---------------- RSI(2) ----------------
\begin{axis}[ovl, at={(35pt,-394pt)}, anchor=north west, height=40.03pt, ymin=70, ymax=106.4]
\addplot[fill=obc, draw=none] table {\rsiC} \closedcycle;
\end{axis}
\begin{axis}[ovl, at={(35pt,-513pt)}, anchor=south west, height=34.97pt, ymin=-1.8, ymax=30]
\fill[osc] (axis cs:-242,0) rectangle (axis cs:786.7,30);
\addplot[fill=white, draw=none] table {\rsiC} \closedcycle;
\end{axis}
\begin{axis}[base, vgrid, at={(35pt,-394pt)}, anchor=north west, height=119pt, ymin=-1.8, ymax=106.4, ytick={10,30,50,70,90}]
\yl{-1.8}{106.4}
\rsiref
\addplot[black, line width=0.6pt] table {\rsiC};
\end{axis}
% ---------------- main: AAPL ----------------
\begin{axis}[base, vgrid, mticks, axis on top, at={(35pt,-513pt)}, anchor=north west, height=619pt, ymin=121.9, ymax=261.1, ytick={125,130,...,255}, yticklabel pos=left]
\addplot[fill=aaplf, draw=aapll, line width=0.6pt] table {\aapl} \closedcycle;
\yl{121.9}{261.1}
\end{axis}
% ---------------- main: BTC ----------------
\begin{axis}[base, ymajorgrids=false, clip mode=individual, at={(35pt,-513pt)}, anchor=north west, height=619pt, ymin=12.17, ymax=113.1,
  ytick={15,17.5,20,22.5,25,27.5,30,32.5,35,37.5,40,42.5,45,47.5,50,52.5,55,57.5,60,62.5,65,67.5,70,72.5,75,77.5,80,82.5,85,87.5,90,92.5,95,97.5,100,102.5,105,107.5,110},
  yticklabels={15000,17500,20000,22500,25000,27500,30000,32500,35000,37500,40000,42500,45000,47500,50000,52500,55000,57500,60000,62500,65000,67500,70000,72500,75000,77500,80000,82500,85000,87500,90000,92500,95000,97500,100.0K,102.5K,105.0K,107.5K,110.0K}]
\addplot[redma, densely dotted, line width=1.3pt] table[x=d,y=u3] {\bb};
\addplot[redma, densely dotted, line width=1.3pt] table[x=d,y=l3] {\bb};
\addplot[black, densely dotted, line width=1.3pt] table[x=d,y=u2] {\bb};
\addplot[black, densely dotted, line width=1.3pt] table[x=d,y=l2] {\bb};
\addplot[redma, line width=1.8pt] table {\btc};
\addplot[black, line width=0.8pt] table {\btc};
\addplot[black, line width=1.7pt, smooth] table {\maC};
\addplot[redma, line width=1.2pt, smooth] table {\maB};
\addplot[navyma, line width=1.2pt, smooth] table {\maA};
\draw[black, line width=1pt] (axis cs:-33,109.34) -- (axis cs:846,109.34);
\draw[black, line width=1pt] (axis cs:-33,73.14) -- (axis cs:846,73.14);
\draw[black, line width=1pt] (axis cs:-33,61.958) -- (axis cs:846,61.958);
\draw[black, line width=1pt] (axis cs:-33,50.775) -- (axis cs:846,50.775);
\draw[black, line width=1pt] (axis cs:-33,14.575) -- (axis cs:846,14.575);
\draw[black, line width=1pt, dash pattern=on 6pt off 3pt] (axis cs:-242,73.75) -- (axis cs:846,73.75);
\draw[black, line width=1.1pt, dash pattern=on 4pt off 3pt] (axis cs:-242,25.1) -- (axis cs:290,25.1);
\draw[black, line width=1.1pt, dash pattern=on 4pt off 3pt] (axis cs:672,89.0) -- (axis cs:815.7,89.0);
\draw[magp, line width=1.6pt, dash pattern=on 4pt off 3pt] (axis cs:-242,100.302) -- (axis cs:815.7,100.302);
\draw[magp, line width=1.6pt, dash pattern=on 4pt off 3pt] (axis cs:-242,96.384) -- (axis cs:815.7,96.384);
\draw[magp, line width=1.6pt, dash pattern=on 4pt off 3pt] (axis cs:-242,80.091) -- (axis cs:815.7,80.091);
\fl{109.34}{0.0\%: 109340.31}
\fl{73.14}{38.2\%: 73140.02}
\fl{61.958}{50.0\%: 61957.75}
\fl{50.775}{61.8\%: 50775.49}
\fl{14.575}{100.0\%: 14575.19}
\draw[redma, line width=1.4pt] (axis cs:438,74.0) -- (axis cs:666,69.1);
\draw[redma, line width=1.4pt] (axis cs:424,59.3) -- (axis cs:614.5,50.5);
\draw[redma, line width=1.4pt] (axis cs:112,30.8) -- (axis cs:177,26.4);
\draw[redma, line width=1.4pt] (axis cs:194,31.6) -- (axis cs:291,26.4);
\draw[blue, line width=1pt, dash pattern=on 3pt off 2pt] (axis cs:-43,22.0) -- (axis cs:373,46.7);
\draw[blue, line width=1.5pt] (axis cs:-3,16.1) -- (axis cs:408,30.0);
\draw[blue, line width=1.5pt] (axis cs:279,26.5) -- (axis cs:534,56.0);
\draw[blue, line width=1.5pt] (axis cs:408,45.1) -- (axis cs:477,72.0);
\draw[blue, line width=1.5pt] (axis cs:487,56.5) -- (axis cs:527,69.6);
\draw[black, line width=0.9pt, -{Triangle[length=9pt,width=8pt]}] (axis cs:69.7,19.0) -- (axis cs:69.7,34.2);
\draw[black, line width=0.9pt, -{Triangle[length=9pt,width=8pt]}] (axis cs:115,25.5) -- (axis cs:115,30.4);
\draw[black, line width=0.9pt, -{Triangle[length=9pt,width=8pt]}] (axis cs:196,25.5) -- (axis cs:196,31.2);
\draw[black, line width=0.9pt, dash pattern=on 2pt off 2pt, -{Triangle[length=9pt,width=8pt]}] (axis cs:242,24.7) -- (axis cs:242,17.7);
\draw[black, line width=2pt, -{Triangle[length=10pt,width=9pt]}] (axis cs:711,101.7) -- (axis cs:711,108.4);
\draw[black, line width=2pt, -{Triangle[length=10pt,width=9pt]}] (axis cs:745.6,100.5) -- (axis cs:745.6,109.2);
\draw[black, line width=0.8pt] (axis cs:778,89.0) -- (axis cs:778,71.5) (axis cs:780.6,89.0) -- (axis cs:780.6,71.5);
\fill[black] (axis cs:774.3,71.5) -- (axis cs:784.3,71.5) -- (axis cs:779.3,68.7) -- cycle;
\vl{-234}{23.8}{25.8K}\vl{-220}{26.1}{28.1K}\vl{-215}{33.6}{32.4K}\vl{-196}{15.5}{17600.75}\vl{-177}{23.6}{22.4K}\vl{-165}{25.6}{24.3K}\vl{-160}{18.6}{20.7K}\vl{-170}{16.7}{18919.10}
\vl{-140}{26.6}{25.2K}\vl{-110}{24.1}{22.8K}\vl{-101}{16.0}{18189.92}\vl{-89}{21.6}{20.5K}\vl{-57}{22.7}{21.5K}\vl{-40.5}{13.5}{15480.69}\vl{-17}{19.5}{18344.32}
\vl{31}{25.5}{24.2K}\vl{46.6}{26.5}{25.2K}\vl{43}{19.3}{21.4K}\vl{69}{17.5}{19597.37}\vl{103}{32.3}{31.0K}\vl{148}{29.6}{28.5K}\vl{131}{23.7}{25.8K}\vl{165}{22.7}{24.8K}
\vl{193}{33.2}{31.8K}\vl{239}{29.3}{28.1K}\vl{227}{23.1}{25.4K}\vl{253}{22.8}{24.9K}\vl{341}{45.9}{44.7K}\vl{375.5}{50.3}{49.1K}\vl{366}{38.3}{40.2K}
\vl{437.5}{75.3}{73.8K}\vl{461.7}{74.3}{72.8K}\vl{504.7}{73.4}{72.0K}\vl{575.2}{71.5}{70.0K}\vl{601}{66.6}{65.1K}\vl{633.8}{67.9}{66.5K}\vl{444.4}{59.0}{60.8K}
\vl{473.7}{57.7}{59.6K}\vl{485.7}{54.6}{56.5K}\vl{551}{51.6}{53.5K}\vl{582}{47.3}{49.2K}\vl{614.8}{50.5}{52.6K}\vl{647.5}{57.0}{58.9K}
\vl{714.7}{110.05}{108.4K}\vl{749}{111.1}{109.3K}\vl{728.4}{89.7}{91.3K}\vl{742.2}{87.5}{89.2K}\vl{763}{89.7}{91.1K}
\end{axis}
% ---------------- Volume ----------------
\begin{axis}[base, vgrid, at={(35pt,-1144pt)}, anchor=north west, height=215pt, ymin=-1, ymax=256,
  ytick={20,40,60,80,100,120,140,160,180,200,220,240},
  yticklabels={20000,40000,60000,80000,100K,120K,140K,160K,180K,200K,220K,240K}]
\yl{-1}{256}
\addplot[ybar, bar width=1.5, bar shift=0pt, fill=volk, draw=black!80, line width=0.3pt] table {\vLK};
\addplot[ybar, bar width=1.5, bar shift=0pt, fill=volr, draw=red!75!black, line width=0.3pt] table {\vLR};
\addplot[ybar, bar width=2.4, bar shift=0pt, fill=volk, draw=black!80, line width=0.3pt] table {\vRK};
\addplot[ybar, bar width=2.4, bar shift=0pt, fill=volr, draw=red!75!black, line width=0.3pt] table {\vRR};
\end{axis}
% ---------------- MACD ----------------
\begin{axis}[base, vgrid, at={(35pt,-1359pt)}, anchor=north west, height=123pt, ymin=-3545, ymax=7636, ytick={-2000,0,2000,4000,6000}]
\yl{-3545}{7636}
\addplot[ybar, bar width=2.6, bar shift=0pt, fill=histf, draw=histd, line width=0.3pt] table {\hist};
\addplot[redma, line width=0.9pt] table {\sig};
\addplot[black, line width=1.4pt] table {\macd};
\end{axis}
% ---------------- MACD Hist ----------------
\begin{axis}[base, vgrid, mticks, at={(35pt,-1482pt)}, anchor=north west, height=245pt, ymin=-1506, ymax=1974, ytick={-1500,-1250,...,1750}]
\yl{-1506}{1974}
\addplot[ybar, bar width=2.6, bar shift=0pt, fill=histf, draw=histd, line width=0.3pt] table {\hist};
\end{axis}
% ---------------- texts ----------------
\node[anchor=west, inner sep=0] at (34pt,-8pt) {\fontsize{12}{12}\selectfont\bfseries \$BTCUSD\ \fontsize{9.3}{10}\selectfont\mdseries Bitcoin to US Dollar\ \ \fontsize{8.5}{9}\selectfont CRYPT};
\node[anchor=west, inner sep=0] at (34pt,-22pt) {\fontsize{10}{10}\selectfont 25-Feb-2025 6:05pm};
\node[anchor=east, inner sep=0, text=black!60] at (1367pt,-7pt) {\fontsize{8.5}{9}\selectfont \copyright StockCharts.com};
\node[anchor=east, inner sep=0] at (1367pt,-18pt) {\fontsize{10}{10}\selectfont\textbf{Open} 91536.97\ \ \textbf{High} 92540.35\ \ \textbf{Low} 85944.14\ \ \textbf{Last} 87366.88\ \ \textbf{Volume} 54.4K\ \ \textbf{Chg} -4170.09 (-4.56\%)\textcolor{red!70!black}{\dv\fontsize{7}{7}\selectfont ▼}};
\fill[obc] (38pt,-37pt) -- (40pt,-31pt) -- (42pt,-34pt) -- (44pt,-29pt) -- (46pt,-37pt) -- cycle;
\node[anchor=west, inner sep=0] at (48pt,-33pt) {\lbl RSI(14) 28.18};
\fill[obc] (38pt,-285pt) -- (40pt,-279pt) -- (42pt,-282pt) -- (44pt,-277pt) -- (46pt,-285pt) -- cycle;
\node[anchor=west, inner sep=0] at (48pt,-281pt) {\lbl RSI(5) 12.09};
\fill[obc] (38pt,-407pt) -- (40pt,-401pt) -- (42pt,-404pt) -- (44pt,-399pt) -- (46pt,-407pt) -- cycle;
\node[anchor=west, inner sep=0] at (48pt,-403pt) {\lbl RSI(2) 1.80};
\node[draw=black!55, fill=white, line width=0.9pt, minimum width=174pt, minimum height=19pt, inner sep=0] at (1207pt,-57.5pt) {\fontsize{12.5}{13}\selectfont NO CURRENT DIVERGENCE};
\node[draw=black!55, fill=white, line width=0.9pt, minimum width=174pt, minimum height=18pt, inner sep=0] at (1211pt,-271pt) {\fontsize{12.5}{13}\selectfont NO CURRENT DIVERGENCE};
\draw[black, line width=0.8pt] (39pt,-519pt) -- (39pt,-527pt) (42pt,-518pt) -- (42pt,-526pt) (45pt,-520pt) -- (45pt,-528pt);
\node[anchor=west, inner sep=0] at (48pt,-523pt) {\lbl \$BTCUSD (Daily) 87366.88};
\draw[navyma, line width=1.6pt] (38pt,-533.5pt) -- (46pt,-533.5pt);
\node[anchor=west, inner sep=0, text=navyma] at (47pt,-533.5pt) {\lbl MA(50) 98509.17};
\draw[redma, line width=1.6pt] (38pt,-544.5pt) -- (46pt,-544.5pt);
\node[anchor=west, inner sep=0, text=redma] at (47pt,-544.5pt) {\lbl MA(100) 98003.71};
\draw[black, line width=1.6pt] (38pt,-555.5pt) -- (46pt,-555.5pt);
\node[anchor=west, inner sep=0] at (47pt,-555.5pt) {\lbl MA(200) 81624.18};
\draw[black, line width=1.6pt] (38pt,-566.5pt) -- (46pt,-566.5pt);
\node[anchor=west, inner sep=0] at (47pt,-566.5pt) {\lbl BB(20,2.0) 91215.00 - 95967.95 - 100720.91};
\draw[redma, line width=1.6pt] (38pt,-577.5pt) -- (46pt,-577.5pt);
\node[anchor=west, inner sep=0, text=redma] at (47pt,-577.5pt) {\lbl BB(20,3.0) 88838.52 - 95967.95 - 103097.38};
\fill[aapll!70!black] (38pt,-592pt) -- (40pt,-586pt) -- (42pt,-589pt) -- (44pt,-584pt) -- (46pt,-592pt) -- cycle;
\node[anchor=west, inner sep=0, text=green!35!black] at (48pt,-588.5pt) {\lbl AAPL 248.27};
\node[draw=black!55, fill=white, line width=0.9pt, minimum width=150pt, minimum height=17pt, inner sep=0] at (1099pt,-582.5pt) {\scalebox{0.72}[1]{\fontsize{15}{15}\selectfont\bfseries MONTHLY PIVOT 100302}};
\node[draw=black!55, fill=white, line width=0.9pt, minimum width=138pt, minimum height=19pt, inner sep=0] at (1105pt,-607pt) {\scalebox{0.72}[1]{\fontsize{15}{15}\selectfont\bfseries WEEKLY PIVOT 96384}};
\node[draw=black!55, fill=white, line width=0.9pt, minimum width=138pt, minimum height=19pt, inner sep=0] at (1107.5pt,-707pt) {\scalebox{0.72}[1]{\fontsize{15}{15}\selectfont\bfseries ANNUAL PIVOT 80091}};
\node[anchor=south west, inner sep=0] at (818pt,-658pt) {\resizebox{262pt}{16pt}{\lser CHARTING THE MARKETS AT}};
\node[anchor=south west, inner sep=0] at (818pt,-673pt) {\resizebox{264pt}{11pt}{\lmono CTMCRYPTO.SUBSTACK.COM}};
\node[anchor=south west, inner sep=0] at (818pt,-687pt) {\resizebox{260pt}{9pt}{\lmono\itshape T H R O U G H\ \ A\ \ G L A S S\ \ D A R K L Y}};
\begin{scope}[shift={(1138pt,-661pt)}]
 \draw[line width=3.5pt, logob] (60:31pt and 22pt) arc[start angle=60, end angle=325, x radius=31pt, y radius=22pt];
 \draw[line width=2.2pt, logob, -{Triangle[length=7pt,width=8pt]}] (300:31pt and 22pt) arc[start angle=300, end angle=385, x radius=31pt, y radius=22pt];
 \foreach \cx/\lo/\hi in {-17/-8/3, -11/-5/8, -5/-10/6, 1/-4/11, 7/-7/9, 13/-2/14}
   {\draw[logob, line width=0.6pt] (\cx pt,\lo pt-3pt) -- (\cx pt,\hi pt+3pt); \fill[logob] (\cx pt-2pt,\lo pt) rectangle (\cx pt+2pt,\hi pt);}
\end{scope}
\fill[volk] (38pt,-1156pt) rectangle (40pt,-1149pt) (41pt,-1156pt) rectangle (43pt,-1147pt) (44pt,-1156pt) rectangle (46pt,-1150pt);
\node[anchor=west, inner sep=0] at (48pt,-1152pt) {\lbl Volume 54,369};
\draw[black, line width=1.6pt] (38pt,-1366pt) -- (46pt,-1366pt);
\node[anchor=west, inner sep=0] at (48pt,-1366pt) {\lbl MACD(12,26,9) -1764.742\textcolor{red}{, -1083.250}\textcolor{blue}{, -681.492}};
\fill[histf] (38pt,-1493pt) rectangle (40pt,-1486pt) (41pt,-1493pt) rectangle (43pt,-1484pt) (44pt,-1493pt) rectangle (46pt,-1488pt);
\node[anchor=west, inner sep=0] at (48pt,-1489pt) {\lbl MACD(12,26,9) Hist -681.492};
\end{tikzpicture}
\end{document}
